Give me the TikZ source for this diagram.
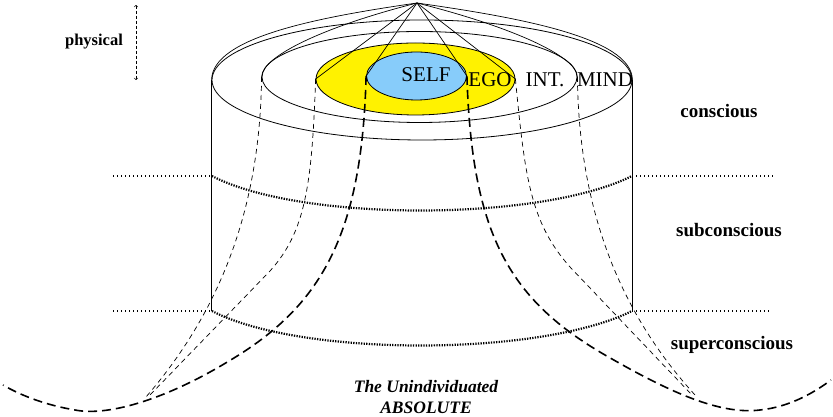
\documentclass[tikz,border=0pt]{standalone}
\usepackage{fontspec}
\setmainfont{Liberation Serif}
\usetikzlibrary{shapes.geometric, arrows}
\definecolor{selfblue}{RGB}{135,204,250}
\tikzstyle{ring} = [ellipse, draw=black, line width=0.8pt, inner sep=0pt]
\tikzstyle{ringname} = [inner sep=0pt, font=\fontsize{21}{23}\selectfont]
\tikzstyle{levelname} = [inner sep=0pt, font=\fontsize{19}{21}\selectfont\bfseries]
\tikzstyle{limitline} = [line width=1.1pt, dash pattern=on 1pt off 3pt]
\tikzstyle{limitcurve} = [line width=2.2pt, dash pattern=on 1.3pt off 1.3pt]
\tikzstyle{threadthick} = [line width=1.6pt, dash pattern=on 9pt off 5pt]
\tikzstyle{threadthin} = [line width=0.7pt, dash pattern=on 5pt off 4pt]
\tikzstyle{cone} = [line width=0.7pt]

\begin{document}
\begin{tikzpicture}[x=1pt, y=1pt]
  \useasboundingbox (0,0) rectangle (833,417);
  \node (mind) [ring, minimum width=420pt, minimum height=120pt] at (422,337) {};
  \node (int) [ring, minimum width=315pt, minimum height=91pt] at (419.5,340) {};
  \node (ego) [ring, fill=yellow, minimum width=199pt, minimum height=72pt] at (415.5,338) {};
  \node (self) [ring, fill=selfblue, minimum width=100pt, minimum height=48pt] at (416.5,341) {};
  \coordinate (apex) at (417,414);
  \draw [cone] (apex) -- (self.west);
  \draw [cone] (apex) -- (self.east);
  \draw [cone] (apex) -- (ego.west);
  \draw [cone] (apex) -- (ego.east);
  \draw [cone] (int.west) .. controls (262,362) and (330,392) .. (apex);
  \draw [cone] (int.east) .. controls (577,362) and (505,392) .. (apex);
  \draw [cone] (mind.west) .. controls (212,380) and (320,400) .. (apex);
  \draw [cone] (mind.east) .. controls (632,380) and (515,400) .. (apex);
  \coordinate (lowleft) at (212,106);
  \coordinate (lowright) at (632,106);
  \draw [line width=0.8pt] (mind.west) -- (mind.west |- lowleft);
  \draw [line width=0.8pt] (mind.east) -- (mind.east |- lowright);
  \coordinate (subleft) at (113,241);
  \coordinate (midleft) at (212,241);
  \coordinate (midright) at (632,241);
  \coordinate (subright) at (775,241);
  \draw [limitline] (subleft) -- (midleft);
  \draw [limitcurve] (midleft) .. controls (300,195) and (540,195) .. (midright);
  \draw [limitline] (midright) -- (subright);
  \coordinate (supleft) at (113,106);
  \coordinate (supright) at (772,106);
  \draw [limitline] (supleft) -- (lowleft);
  \draw [limitcurve] (lowleft) .. controls (300,60) and (540,60) .. (lowright);
  \draw [limitline] (lowright) -- (supright);
  \draw [threadthin] (int.west) .. controls (260,200) and (215,100) .. (146,20);
  \draw [threadthin] (ego.west) .. controls (312,230) and (305,185) .. (270,146) -- (150,22);
  \draw [threadthin] (int.east) .. controls (579,200) and (624,100) .. (695,22);
  \draw [threadthin] (ego.east) .. controls (525,240) and (530,195) .. (570,150) -- (692,22);
  \draw [threadthick] (self.west) .. controls (362,180) and (320,110) .. (229,56)
    .. controls (170,20) and (110,0) .. (75,7) .. controls (45,12) and (20,22) .. (3,32);
  \draw [threadthick] (self.east) .. controls (472,180) and (510,115) .. (612,58)
    .. controls (670,25) and (720,2) .. (760,7) .. controls (790,10) and (815,25) .. (831,37);
  \coordinate (phystop) at (136,412);
  \coordinate (physbot) at (136,337);
  \draw [<->, >=to, line width=0.6pt, dash pattern=on 3pt off 2pt] (phystop) -- (physbot);
  \node (physical) [inner sep=0pt, font=\fontsize{16.5}{18}\selectfont\bfseries] at (94,375) {physical};
  \node (selfname) [ringname] at (426,342) {SELF};
  \node (egoname) [ringname] at (490,337) {EGO};
  \node (intname) [ringname] at (545,337) {INT.};
  \node (mindname) [ringname] at (605,337) {MIND};
  \node (conscious) [levelname] at (719,306) {conscious};
  \node (subconscious) [levelname] at (729,187) {subconscious};
  \node (superconscious) [levelname] at (732,72) {superconscious};
  \node (absolute) [inner sep=0pt, align=center, font=\fontsize{17.5}{21}\selectfont\bfseries\itshape] at (426,20) {The Unindividuated\\ABSOLUTE};
\end{tikzpicture}
\end{document}
